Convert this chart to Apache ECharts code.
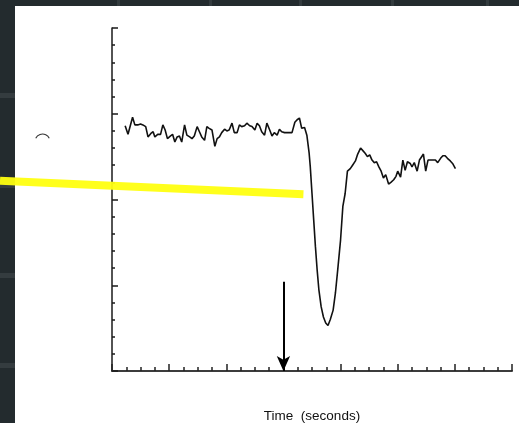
<!DOCTYPE html>
<html>
<head>
<meta charset="utf-8">
<script src="https://cdn.jsdelivr.net/npm/echarts@6/dist/echarts.min.js"></script>
<style>
html,body{margin:0;padding:0;background:#232b2e;}
#chart{width:519px;height:423px;}
</style>
</head>
<body>
<div id="chart"></div>
<script>
// Time (seconds)
var time = [0.23,0.28,0.36,0.40,0.45,0.50,0.54,0.59,0.63,0.68,0.72,0.75,0.80,0.85,0.89,0.93,0.97,1.02,1.06,1.10,1.14,1.18,1.22,1.27,1.31,1.36,1.40,1.44,1.49,1.53,1.57,1.62,1.66,1.70,1.75,1.80,1.84,1.88,1.92,1.97,2.01,2.05,2.10,2.14,2.19,2.23,2.27,2.32,2.36,2.41,2.45,2.50,2.54,2.58,2.62,2.67,2.71,2.76,2.80,2.84,2.89,2.93,2.97,3.02,3.06,3.10,3.15,3.20,3.24,3.28,3.32,3.37,3.41,
  3.45,3.47,3.50,3.53,3.56,3.59,3.62,3.66,3.70,3.74,3.78,3.82,3.87,3.91,3.95,4.00,4.04,4.08,4.12,4.17,4.21,4.26,4.30,4.35,4.39,4.43,4.47,4.51,4.55,4.59,4.63,4.67,4.71,4.75,4.79,4.84,4.88,4.93,4.97,5.00,5.05,5.09,5.13,5.17,5.22,5.25,5.29,5.34,5.38,5.41,5.45,5.49,5.53,5.57,5.62,5.66,5.70,5.75,5.79,5.83,5.87,5.92,5.96,6.01];
// Signal
var signal = [2.86,2.76,2.96,2.87,2.87,2.88,2.87,2.85,2.73,2.77,2.79,2.73,2.76,2.76,2.87,2.81,2.71,2.74,2.76,2.67,2.73,2.74,2.67,2.87,2.75,2.73,2.71,2.74,2.85,2.79,2.73,2.69,2.85,2.83,2.81,2.62,2.71,2.73,2.78,2.82,2.80,2.81,2.89,2.78,2.78,2.87,2.85,2.86,2.89,2.86,2.85,2.81,2.89,2.86,2.79,2.75,2.89,2.81,2.74,2.78,2.75,2.82,2.79,2.78,2.78,2.78,2.78,2.90,2.93,2.95,2.83,2.84,2.75,
  2.54,2.38,2.07,1.76,1.45,1.18,0.95,0.75,0.63,0.56,0.53,0.60,0.71,0.91,1.18,1.53,1.92,2.07,2.33,2.36,2.40,2.45,2.53,2.60,2.57,2.54,2.50,2.52,2.46,2.43,2.44,2.38,2.33,2.25,2.29,2.18,2.20,2.23,2.27,2.33,2.26,2.46,2.34,2.44,2.42,2.38,2.43,2.33,2.46,2.49,2.53,2.33,2.46,2.46,2.46,2.46,2.43,2.48,2.51,2.51,2.48,2.45,2.42,2.36];
// Stimulus arrow
var arrowTime = 3.0;
var arrowTop = 1.04;
// Yellow highlighter stroke (data coords, extends past the plot)
var highlightX = [-1.96, 3.35];
var highlightY = [2.22, 2.06];

var xTicksMax = 7, yTicksMax = 4;

var chart = echarts.init(document.getElementById('chart'), null, {renderer:'canvas'});
var lineData = time.map(function(t,i){return [t, signal[i]];});

var tileBands = [];
[118,210,300,392,487].forEach(function(x, i){
  tileBands.push({id:'tb'+i, type:'rect', z:-5, shape:{x:x-1, y:0, width:3, height:6}, style:{fill:'#333b3e'}});
});
[95,185,275,365].forEach(function(y, i){
  tileBands.push({id:'lb'+i, type:'rect', z:-5, shape:{x:0, y:y-2, width:15, height:5}, style:{fill:'#343c3f'}});
});

chart.setOption({
  backgroundColor:'#232b2e',
  animation:false,
  graphic: [
    {id:'paper', type:'rect', z:-10, shape:{x:15, y:6, width:504, height:417}, style:{fill:'#ffffff'}},
    {id:'arcmark', type:'arc', z:1, shape:{cx:42.5, cy:141.5, r:7.5, startAngle:-Math.PI+0.45, endAngle:-0.45}, style:{stroke:'#333', lineWidth:1.1, fill:null}}
  ].concat(tileBands),
  grid:{left:112, top:28, width:400, height:343, containLabel:false, outerBoundsMode:'none'},
  xAxis:{
    type:'value', min:0, max:xTicksMax, interval:1,
    name:'Time  (seconds)', nameLocation:'middle', nameGap:38,
    nameTextStyle:{fontFamily:'Liberation Sans', fontSize:13.5, color:'#111'},
    axisLine:{lineStyle:{color:'#3c3c3c', width:2}},
    axisTick:{show:true, inside:true, length:7, lineStyle:{color:'#222', width:1.5}},
    minorTick:{show:true, splitNumber:4, length:4, lineStyle:{color:'#222', width:1.5}},
    axisLabel:{show:false}, splitLine:{show:false}, minorSplitLine:{show:false}
  },
  yAxis:{
    type:'value', min:0, max:yTicksMax, interval:1,
    axisLine:{lineStyle:{color:'#1a1a1a', width:1.5}},
    axisTick:{show:true, inside:true, length:6, lineStyle:{color:'#1a1a1a', width:1.5}},
    minorTick:{show:true, splitNumber:5, length:3, lineStyle:{color:'#1a1a1a', width:1.5}},
    axisLabel:{show:false}, splitLine:{show:false}, minorSplitLine:{show:false}
  },
  series:[
    {
      type:'line', data:lineData, showSymbol:false, symbol:'none', z:3,
      lineStyle:{color:'#111', width:1.6},
      markLine:{
        silent:true, animation:false,
        symbol:['none','arrow'], symbolSize:[10,15],
        label:{show:false},
        lineStyle:{color:'#000', width:2, type:'solid'},
        data:[[{coord:[arrowTime, arrowTop]},{coord:[arrowTime, 0]}]]
      }
    }
  ]
});

// Highlighter stroke placed through the chart's own scales (extends beyond the grid)
var p0 = chart.convertToPixel({gridIndex:0}, [highlightX[0], highlightY[0]]);
var p1 = chart.convertToPixel({gridIndex:0}, [highlightX[1], highlightY[1]]);
chart.setOption({
  graphic: [{
    id:'highlight', type:'line', z:100,
    shape:{x1:p0[0], y1:p0[1], x2:p1[0], y2:p1[1]},
    style:{stroke:'#ffff10', lineWidth:8, lineCap:'butt', opacity:0.95}
  }]
});
</script>
</body>
</html>
